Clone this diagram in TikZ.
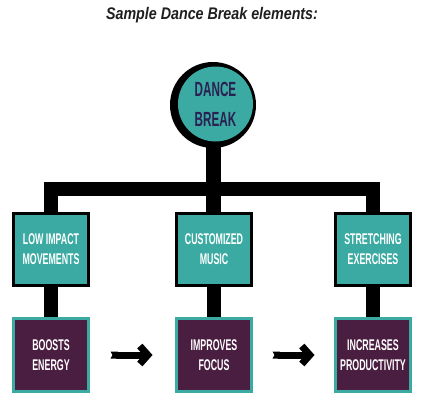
\documentclass[tikz,border=0pt]{standalone}
\usepackage{fontspec}
\usetikzlibrary{arrows.meta}
\newfontfamily\condbold{Liberation Sans}[FakeStretch=0.57]
\newfontfamily\titlefont{Liberation Sans}[FakeStretch=0.85]
\definecolor{teal1}{HTML}{3BAAA2}
\definecolor{plum}{HTML}{4A1E41}
\definecolor{navy}{HTML}{2A2152}
\pgfdeclarelayer{bg}
\pgfdeclarelayer{paper}
\pgfsetlayers{paper,bg,main}
\begin{document}
\begin{tikzpicture}[x=1pt,y=-1pt,
  boxtext/.style={text=white, align=center, inner sep=0pt,
    font=\condbold\bfseries\fontsize{15.5}{20}\selectfont},
  topbox/.style={boxtext, draw=black, line width=3pt, fill=teal1,
    minimum width=75pt, minimum height=72pt},
  botbox/.style={boxtext, draw=teal1, line width=3pt, fill=plum,
    minimum width=75pt, minimum height=73pt},
  tree/.style={draw=black, line width=14pt, line join=miter},
  flow/.style={draw=black, line width=7pt,
    {Triangle Cap[reversed, length=2pt]}-{Straight Barb[length=8pt,width=18pt]}}]
\useasboundingbox (0,0) rectangle (424,402);
\begin{pgfonlayer}{paper}
  \fill[white] (0,0) rectangle (424,402);
\end{pgfonlayer}

\node[font=\titlefont\bfseries\itshape\fontsize{16.8}{20}\selectfont, text=black!88, anchor=base]
  (title) at (212,19.3) {Sample Dance Break elements:};

\node[circle, fill=black, minimum size=86pt, inner sep=0pt] (ring) at (213,105) {};
\node[circle, fill=teal1, minimum size=75pt, inner sep=0pt, text=navy, align=center,
  font=\condbold\bfseries\fontsize{20.5}{30}\selectfont] (dance) at (215.5,104) {DANCE\\BREAK};

\node[topbox] (t1) at (51,249.5) {LOW IMPACT\\MOVEMENTS};
\node[topbox] (t2) at (214,249.5) {CUSTOMIZED\\MUSIC};
\node[topbox] (t3) at (373,249.5) {STRETCHING\\EXERCISES};

\node[botbox] (b1) at (51,355) {BOOSTS\\ENERGY};
\node[botbox] (b2) at (214,355) {IMPROVES\\FOCUS};
\node[botbox] (b3) at (373,355) {INCREASES\\PRODUCTIVITY};

\coordinate (bar) at (213,189);

\begin{pgfonlayer}{bg}
  \draw[draw=black, line width=15pt] (ring.center) -- (ring.center |- t2.north);
  \draw[tree] (t1.north) |- (bar) -| (t3.north);
  \draw[draw=black, line width=14pt] (t1) -- (b1);
  \draw[draw=black, line width=14pt] (t2) -- (b2);
  \draw[draw=black, line width=14pt] (t3) -- (b3);
\end{pgfonlayer}

\draw[flow, shorten <=20.5pt, shorten >=22.5pt] (b1) -- (b2);
\draw[flow, shorten <=19.5pt, shorten >=19.5pt] (b2) -- (b3);
\end{tikzpicture}
\end{document}
